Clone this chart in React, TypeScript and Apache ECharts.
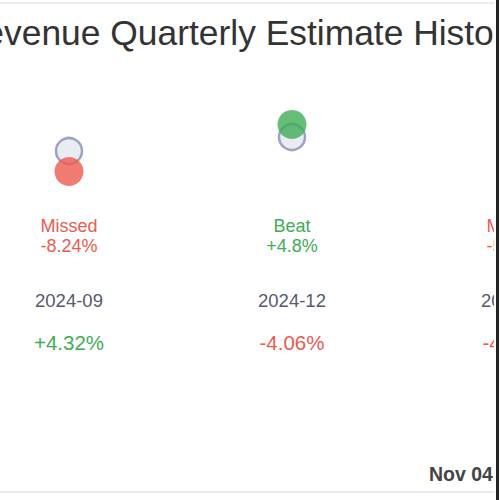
import React, { useEffect, useRef } from "react";
import * as echarts from "echarts";

const quarters = ["2024-09", "2024-12", "2025-03"];
const estimates = [24.9, 26.3, 27.4];
const actuals = [22.85, 27.56, 25.9];
const outcomes = ["Missed", "Beat", "Missed"];
const surprises = ["-8.24%", "+4.8%", "-5.47%"];
const priceChanges = ["+4.32%", "-4.06%", "-4.51%"];
const titleText = "Revenue Quarterly Estimate History";
const dateText = "Nov 04, 2025";

const RED = "#ec5a4f";
const GREEN = "#40ad55";
const FONT = "'Liberation Sans', Arial, sans-serif";
const OFF = 100; // the chart is wider than the visible card and shifted left

export default function App() {
  const ref = useRef<HTMLDivElement>(null);
  useEffect(() => {
    if (!ref.current) return;
    const chart = echarts.init(ref.current, null, { renderer: "svg" });
    const hidden = { axisLine: { show: false }, axisTick: { show: false }, splitLine: { show: false } };
    chart.setOption({
      animation: false,
      backgroundColor: "#fff",
      title: {
        text: titleText,
        left: OFF - 41.2,
        top: 15,
        padding: 0,
        textStyle: { fontSize: 35.4, fontWeight: "normal", color: "#333", fontFamily: FONT },
      },
      grid: { left: OFF - 42.5, width: 669, top: 100, height: 100 },
      xAxis: [
        {
          type: "category",
          data: quarters,
          position: "bottom",
          ...hidden,
          axisLabel: {
            interval: 0,
            margin: 16,
            formatter: (_v: string, i: number) => {
              const c = outcomes[i] === "Beat" ? "g" : "r";
              return `{${c}|${outcomes[i]}}\n{${c}|${surprises[i]}}`;
            },
            rich: {
              r: { color: RED, fontSize: 18, lineHeight: 20, fontFamily: FONT },
              g: { color: GREEN, fontSize: 18, lineHeight: 20, fontFamily: FONT },
            },
          },
        },
        {
          type: "category",
          data: quarters,
          position: "bottom",
          ...hidden,
          axisLabel: {
            interval: 0,
            margin: 90,
            color: "#555a6e",
            fontSize: 18.5,
            lineHeight: 20,
            fontFamily: FONT,
          },
        },
        {
          type: "category",
          data: quarters,
          position: "bottom",
          ...hidden,
          axisLabel: {
            interval: 0,
            margin: 131,
            formatter: (_v: string, i: number) => {
              const c = priceChanges[i].startsWith("-") ? "r" : "g";
              return `{${c}|${priceChanges[i]}}`;
            },
            rich: {
              r: { color: RED, fontSize: 20.5, lineHeight: 22, fontFamily: FONT },
              g: { color: GREEN, fontSize: 20.5, lineHeight: 22, fontFamily: FONT },
            },
          },
        },
      ],
      yAxis: { type: "value", min: 20, max: 30, show: false },
      series: [
        {
          name: "Estimate",
          type: "scatter",
          xAxisIndex: 0,
          symbol: "circle",
          symbolSize: 26,
          itemStyle: { color: "#e3e7ef", borderColor: "#878fb2", borderWidth: 2.5 },
          data: estimates,
          z: 2,
        },
        {
          name: "Actual",
          type: "scatter",
          xAxisIndex: 0,
          symbol: "circle",
          symbolSize: 29,
          data: actuals.map((v, i) => ({
            value: v,
            itemStyle: { color: outcomes[i] === "Beat" ? GREEN : RED },
          })),
          z: 3,
        },
      ],
      graphic: [
        { type: "line", shape: { x1: OFF, y1: 3, x2: OFF + 494, y2: 3 }, style: { stroke: "#e1e5ee", lineWidth: 1.5 } },
        { type: "line", shape: { x1: OFF, y1: 492, x2: OFF + 494, y2: 492 }, style: { stroke: "#e1e5ee", lineWidth: 1.5 } },
        {
          type: "text",
          x: OFF + 429,
          y: 474,
          style: {
            text: dateText,
            fontSize: 19.5,
            fontWeight: "bold",
            fill: "#444",
            fontFamily: FONT,
            textVerticalAlign: "middle",
          },
        },
      ],
    });
    return () => chart.dispose();
  }, []);
  return (
    <div style={{ position: "fixed", left: 0, top: 0, width: 500, height: 500, background: "#fff" }}>
      <div style={{ position: "absolute", left: 0, top: 0, width: 494, height: 500, overflow: "hidden" }}>
        <div ref={ref} style={{ position: "absolute", left: -OFF, top: 0, width: 800, height: 500 }} />
      </div>
      <div style={{ position: "absolute", left: 496, top: 0, width: 2.5, height: 500, background: "#222" }} />
    </div>
  );
}
